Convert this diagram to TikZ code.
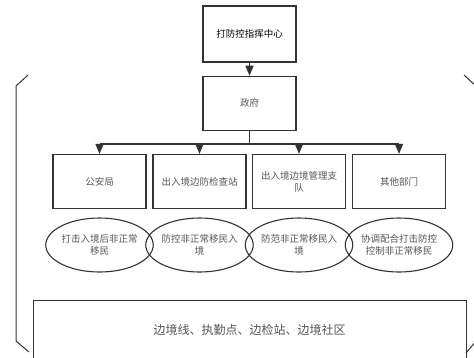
\documentclass[tikz,border=0pt]{standalone}
\usepackage{fontspec}
\setmainfont{Noto Sans CJK SC}
\usetikzlibrary{positioning, arrows, shapes.geometric}
\definecolor{linegray}{HTML}{333333}
\definecolor{textgray}{HTML}{555555}

\begin{document}
\begin{tikzpicture}[x=1pt, y=-1pt, node distance=13pt]
        \tikzstyle{box} = [rectangle, minimum width=93pt, minimum height=54pt, text centered, align=center, draw=linegray, line width=1.3pt, text=textgray, font=\fontsize{9.5}{12}\selectfont, inner sep=1pt]
        \tikzstyle{task} = [ellipse, minimum width=93pt, minimum height=54pt, text centered, align=center, draw=linegray, line width=1.1pt, text=textgray, font=\fontsize{9.5}{12}\selectfont, inner sep=0pt]
        \tikzstyle{arrow} = [line width=1.3pt, draw=linegray, ->, >=triangle 45]
        \tikzstyle{bracket} = [line width=1pt, draw=linegray]
        \useasboundingbox (0,0) rectangle (474,357);

        \node (center) [box, minimum height=56pt, text=black] at (249.5,34) {打防控指挥中心};
        \node (gov) [box, below=of center] {政府};

        \node (police) [box] at (99.5,181.5) {公安局};
        \node (station) [box] at (199.5,181.5) {出入境边防检查站};
        \node (troop) [box] at (299,181.5) {出入境边境管理支\\队};
        \node (other) [box] at (399,181.5) {其他部门};

        \node (t1) [task] at (99.5,245) {打击入境后非正常\\移民};
        \node (t2) [task] at (199.5,245) {防控非正常移民入\\境};
        \node (t3) [task] at (299,245) {防范非正常移民入\\境};
        \node (t4) [task] at (399,245) {协调配合打击防控\\控制非正常移民};

        \node (border) [box, minimum width=433pt, minimum height=60pt, line width=1pt, font=\fontsize{12}{14}\selectfont] at (249.5,330) {边境线、执勤点、边检站、边境社区};

        \draw [arrow] (center) -- (gov);
        \draw [line width=1.3pt, draw=linegray] (gov.south) -- ++(0,13) coordinate (split);
        \draw [line width=1.3pt, draw=linegray] (split -| police) -- (split -| other);
        \foreach \n in {police, station, troop, other}
            \draw [arrow] (split -| \n) -- (\n.north);

        % side brackets
        \draw [bracket] (28,75) -- (16,86) -- (16,341) -- (29,352);
        \draw [bracket] (464,75) -- (477,87) -- (477,340) -- (466,353);
\end{tikzpicture}
\end{document}
